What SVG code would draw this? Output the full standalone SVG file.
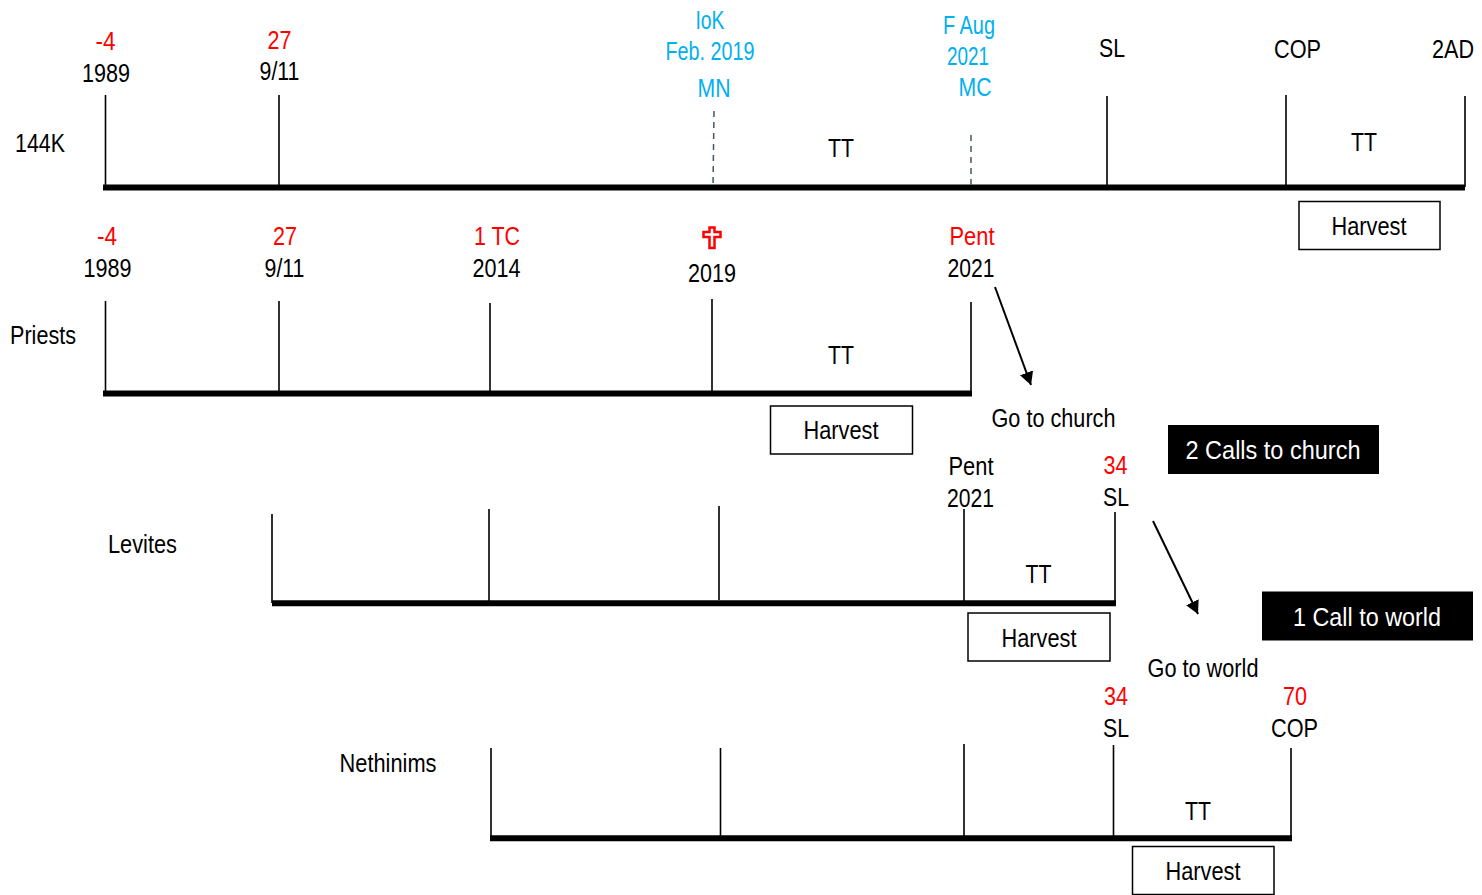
<svg xmlns="http://www.w3.org/2000/svg" width="1482" height="895" viewBox="0 0 1482 895">
<style>
text{font-family:"Liberation Sans",Arial,sans-serif;font-size:26px;fill:#000;text-anchor:middle}
.r{fill:#f00}.b{fill:#00b0f0}.w{fill:#fff}
.t{stroke:#000;stroke-width:1.6;fill:none}
.d{stroke:#44546a;stroke-width:1.5;stroke-dasharray:6 5;fill:none}
.m{stroke:#000;stroke-width:6;fill:none}
.a{stroke:#000;stroke-width:2;fill:none;marker-end:url(#h)}
.bx{fill:#fff;stroke:#000;stroke-width:1.5}
</style>
<defs><marker id="h" markerUnits="userSpaceOnUse" markerWidth="16" markerHeight="16" refX="13" refY="7" orient="auto"><path d="M0 0L13 7L0 14Z" fill="#000"/></marker></defs>
<g id="connectors">
<path class="m" d="M103 187.500H1465"/><path class="m" d="M103 393.500H972"/><path class="m" d="M272 603.300H1116"/><path class="m" d="M490 838.300H1292"/>
<path class="t" d="M105.500 95V187M279 95V187M1107 96V187M1286 95V187M1465 96V187"/>
<path class="d" d="M714 111L713 187M971 135V187"/>
<path class="t" d="M105.500 301V393M279 301V393M490 303V393M712 299V393M971 302V393"/>
<path class="t" d="M272 514V603M489 509V603M719 506V600M964 509V603M1115 512V603"/>
<path class="t" d="M491 748V838M720.500 748V838M964 744V838M1113.500 745V838M1291 748V838"/>
<path class="a" d="M995 287L1031 385"/><path class="a" d="M1153 521L1198 614"/>
</g>
<g id="row-144k">
<text x="40" y="151.500" textLength="50" lengthAdjust="spacingAndGlyphs">144K</text>
<text class="r" x="105.500" y="49.500" textLength="20" lengthAdjust="spacingAndGlyphs">-4</text>
<text x="106" y="81.500" textLength="48" lengthAdjust="spacingAndGlyphs">1989</text>
<text class="r" x="279.500" y="48.500" textLength="24" lengthAdjust="spacingAndGlyphs">27</text>
<text x="279.500" y="79.500" textLength="40" lengthAdjust="spacingAndGlyphs">9/11</text>
<text class="b" x="710" y="28.500" textLength="29" lengthAdjust="spacingAndGlyphs">IoK</text>
<text class="b" x="710" y="59.500" textLength="89" lengthAdjust="spacingAndGlyphs">Feb. 2019</text>
<text class="b" x="714" y="96.500" textLength="33" lengthAdjust="spacingAndGlyphs">MN</text>
<text class="b" x="969" y="33.500" textLength="52" lengthAdjust="spacingAndGlyphs">F Aug</text>
<text class="b" x="968" y="64.500" textLength="42" lengthAdjust="spacingAndGlyphs">2021</text>
<text class="b" x="975" y="95.500" textLength="33" lengthAdjust="spacingAndGlyphs">MC</text>
<text x="1112" y="56.500" textLength="26" lengthAdjust="spacingAndGlyphs">SL</text>
<text x="1297.500" y="58" textLength="47" lengthAdjust="spacingAndGlyphs">COP</text>
<text x="1453" y="58" textLength="42" lengthAdjust="spacingAndGlyphs">2AD</text>
<text x="841" y="156.500" textLength="26" lengthAdjust="spacingAndGlyphs">TT</text>
<text x="1364" y="150.500" textLength="26" lengthAdjust="spacingAndGlyphs">TT</text>
<rect class="bx" x="1299" y="201.500" width="141" height="48"/>
<text x="1369" y="235" textLength="75" lengthAdjust="spacingAndGlyphs">Harvest</text>
</g>
<g id="row-priests">
<text x="43" y="344" textLength="66" lengthAdjust="spacingAndGlyphs">Priests</text>
<text class="r" x="107" y="244.500" textLength="20" lengthAdjust="spacingAndGlyphs">-4</text>
<text x="107.500" y="276.500" textLength="48" lengthAdjust="spacingAndGlyphs">1989</text>
<text class="r" x="285" y="244.500" textLength="24" lengthAdjust="spacingAndGlyphs">27</text>
<text x="284.500" y="276.500" textLength="40" lengthAdjust="spacingAndGlyphs">9/11</text>
<text class="r" x="497" y="244.500" textLength="46" lengthAdjust="spacingAndGlyphs">1 TC</text>
<text x="496.500" y="276.500" textLength="48" lengthAdjust="spacingAndGlyphs">2014</text>
<path id="cross" d="M709.500 227.500H714.500V232H720.500V237H714.500V248H709.500V237H703.500V232H709.500Z" fill="#fff" stroke="#f00" stroke-width="2.500"/>
<text x="712" y="281.500" textLength="48" lengthAdjust="spacingAndGlyphs">2019</text>
<text class="r" x="972" y="245" textLength="45" lengthAdjust="spacingAndGlyphs">Pent</text>
<text x="971" y="276.500" textLength="47" lengthAdjust="spacingAndGlyphs">2021</text>
<text x="841" y="363.500" textLength="26" lengthAdjust="spacingAndGlyphs">TT</text>
<rect class="bx" x="770.500" y="406" width="142" height="48"/>
<text x="841" y="439" textLength="75" lengthAdjust="spacingAndGlyphs">Harvest</text>
<text x="1053.500" y="427" textLength="124" lengthAdjust="spacingAndGlyphs">Go to church</text>
</g>
<g id="call-2">
<rect x="1168" y="425" width="211" height="49" fill="#000"/>
<text class="w" x="1273" y="459" textLength="175" lengthAdjust="spacingAndGlyphs">2 Calls to church</text>
</g>
<g id="row-levites">
<text x="142.500" y="553" textLength="69" lengthAdjust="spacingAndGlyphs">Levites</text>
<text x="971" y="475" textLength="45" lengthAdjust="spacingAndGlyphs">Pent</text>
<text x="970.500" y="506.500" textLength="47" lengthAdjust="spacingAndGlyphs">2021</text>
<text class="r" x="1115.500" y="473.500" textLength="24" lengthAdjust="spacingAndGlyphs">34</text>
<text x="1116" y="505.500" textLength="26" lengthAdjust="spacingAndGlyphs">SL</text>
<text x="1038.500" y="582.500" textLength="26" lengthAdjust="spacingAndGlyphs">TT</text>
<rect class="bx" x="968" y="613" width="142" height="48"/>
<text x="1039" y="647" textLength="75" lengthAdjust="spacingAndGlyphs">Harvest</text>
<text x="1203" y="677" textLength="111" lengthAdjust="spacingAndGlyphs">Go to world</text>
</g>
<g id="call-1">
<rect x="1262" y="591.500" width="211" height="49" fill="#000"/>
<text class="w" x="1367" y="626" textLength="148" lengthAdjust="spacingAndGlyphs">1 Call to world</text>
</g>
<g id="row-nethinims">
<text x="388" y="772" textLength="97" lengthAdjust="spacingAndGlyphs">Nethinims</text>
<text class="r" x="1116" y="705" textLength="24" lengthAdjust="spacingAndGlyphs">34</text>
<text x="1116" y="737" textLength="26" lengthAdjust="spacingAndGlyphs">SL</text>
<text class="r" x="1295" y="705" textLength="24" lengthAdjust="spacingAndGlyphs">70</text>
<text x="1294.500" y="737" textLength="47" lengthAdjust="spacingAndGlyphs">COP</text>
<text x="1198" y="820" textLength="26" lengthAdjust="spacingAndGlyphs">TT</text>
<rect class="bx" x="1132.500" y="846.500" width="141.500" height="48"/>
<text x="1203" y="880" textLength="75" lengthAdjust="spacingAndGlyphs">Harvest</text>
</g>
</svg>
